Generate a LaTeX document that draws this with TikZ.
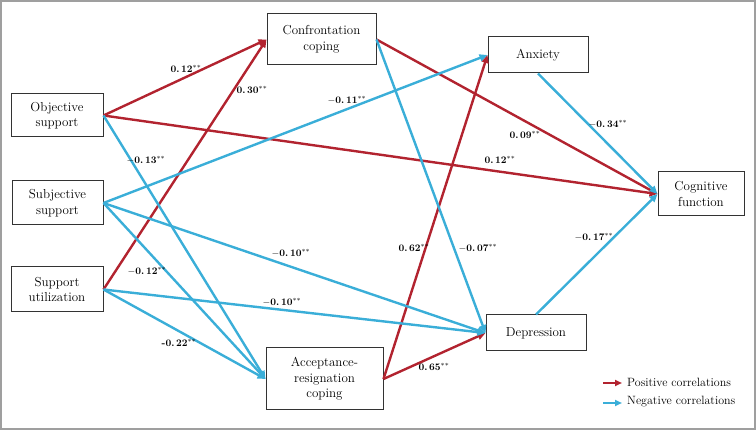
\documentclass[tikz,border=0pt]{standalone}
\usepackage{amsmath}
\usepackage{fontspec}
\usepackage{tikz}
\usetikzlibrary{arrows.meta, calc, positioning}

\definecolor{posred}{HTML}{B2232F}
\definecolor{negblue}{HTML}{3AAED8}

\tikzset{
  var/.style={draw=black!80, line width=1pt, fill=white, align=center,
    font=\fontsize{13}{15.5}\selectfont, inner sep=2pt},
  posarr/.style={posred, line width=2.4pt, -{Triangle[length=8pt,width=7pt]}},
  negarr/.style={negblue, line width=2.4pt, -{Triangle[length=8pt,width=7pt]}},
  coef/.style={font=\fontsize{10}{12}\selectfont\bfseries, inner sep=1pt}
}
\newcommand{\sig}[1]{#1$^{**}$}

\begin{document}
\begin{tikzpicture}[x=1pt, y=-1pt]
            \useasboundingbox (0,0) rectangle (756,430);
            \draw[gray!75, line width=1.6pt] (1,1) rectangle (755,429);

            % variables
            \node[var, minimum width=92pt, minimum height=43pt] (obj) at (57,115.5) {Objective\\support};
            \node[var, minimum width=91pt, minimum height=44pt] (subj) at (57.5,203) {Subjective\\support};
            \node[var, minimum width=92pt, minimum height=45pt] (util) at (57,289.5) {Support\\utilization};
            \node[var, minimum width=109pt, minimum height=51pt] (conf) at (321.5,39.5) {Confrontation\\coping};
            \node[var, minimum width=117pt, minimum height=62pt] (acc) at (324.5,379) {Acceptance-\\resignation\\coping};
            \node[var, minimum width=100pt, minimum height=36pt] (anx) at (538,55) {Anxiety};
            \node[var, minimum width=100pt, minimum height=36pt] (dep) at (536,333) {Depression};
            \node[var, minimum width=86pt, minimum height=44pt] (cog) at (701,194) {Cognitive\\function};

            % paths
            \foreach \a/\sa/\b in {obj/east/conf, obj/east/cog, util/east/conf, conf/east/cog, acc/east/anx, acc/east/dep} {
                \draw[posarr] (\a.\sa) -- (\b.west);
            }
            \foreach \a/\sa/\b in {obj/east/acc, subj/east/anx, subj/east/dep, subj/east/acc, util/east/dep, util/east/acc, conf/east/dep, anx/south/cog, dep/north/cog} {
                \draw[negarr] (\a.\sa) -- (\b.west);
            }

            % coefficients
            \node[coef] (c1) at (186,69) {\sig{0.\,12}};
            \node[coef] (c2) at (252,90) {\sig{0.\,30}};
            \node[coef] (c3) at (347,100) {\sig{$-$0.\,11}};
            \node[coef] (c4) at (146,160) {\sig{$-$0.\,13}};
            \node[coef] (c5) at (525,135) {\sig{0.\,09}};
            \node[coef] (c6) at (500,160) {\sig{0.\,12}};
            \node[coef] (c7) at (608,124) {\sig{$-$0.\,34}};
            \node[coef] (c8) at (291,253) {\sig{$-$0.\,10}};
            \node[coef] (c9) at (147,271) {\sig{$-$0.\,12}};
            \node[coef] (c10) at (282,302) {\sig{$-$0.\,10}};
            \node[coef] (c11) at (179,343) {\sig{-0.\,22}};
            \node[coef] (c12) at (414,248) {\sig{0.\,62}};
            \node[coef] (c13) at (478,248) {\sig{$-$0.\,07}};
            \node[coef] (c14) at (594,237) {\sig{$-$0.\,17}};
            \node[coef] (c15) at (434,367) {\sig{0.\,65}};

            % legend
            \node[anchor=west, font=\fontsize{12}{14}\selectfont, inner sep=0pt] (lpos) at (627,382) {Positive correlations};
            \node[anchor=west, font=\fontsize{12}{14}\selectfont, inner sep=0pt] (lneg) at (627,402) {Negative correlations};
            \coordinate (lpos0) at (603,383);
            \coordinate (lneg0) at (603,403);
            \draw[posarr, line width=2pt, -{Triangle[length=7pt,width=6pt]}] (lpos0) -- ($(lpos.west)+(-5,1)$);
            \draw[negarr, line width=2pt, -{Triangle[length=7pt,width=6pt]}] (lneg0) -- ($(lneg.west)+(-5,1)$);
        \end{tikzpicture}
\end{document}
